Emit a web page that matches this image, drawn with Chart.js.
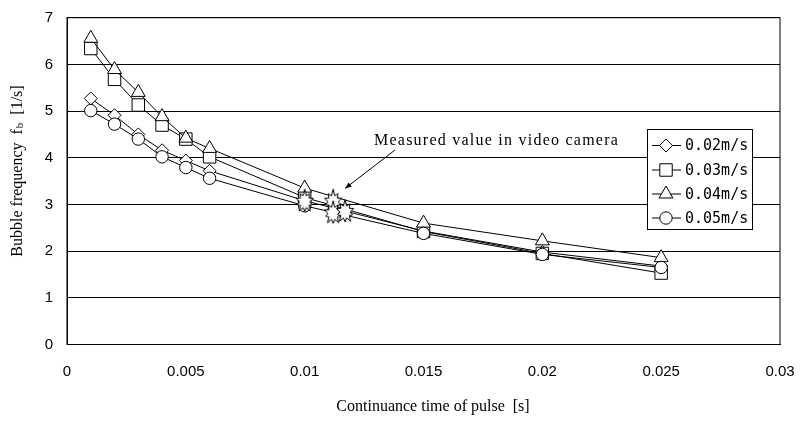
<!DOCTYPE html>
<html>
<head>
<meta charset="utf-8">
<script src="https://cdn.jsdelivr.net/npm/chart.js@4/dist/chart.umd.min.js"></script>
<style>
  html, body { margin: 0; padding: 0; background: #ffffff; }
  #wrap { width: 807px; height: 423px; position: relative; }
</style>
</head>
<body>
<div id="wrap"><canvas id="c" width="807" height="423"></canvas></div>
<script>
// Pulse duration [s]
const pulseTime = [0.001, 0.002, 0.003, 0.004, 0.005, 0.006, 0.010, 0.015, 0.020, 0.025];
// Bubble frequency [1/s] per gas velocity
const freq002 = [5.27, 4.91, 4.50, 4.16, 3.94, 3.72, 3.08, 2.43, 1.98, 1.68];
const freq003 = [6.34, 5.68, 5.13, 4.70, 4.40, 4.02, 3.15, 2.42, 1.95, 1.53];
const freq004 = [6.56, 5.89, 5.40, 4.88, 4.42, 4.20, 3.35, 2.60, 2.22, 1.86];
const freq005 = [5.01, 4.72, 4.40, 4.02, 3.79, 3.56, 2.97, 2.38, 1.93, 1.65];
// Values measured with the video camera
const cameraTime = [0.0100, 0.0112, 0.0112, 0.0117];
const cameraFreq = [3.06, 3.06, 2.81, 2.84];

const seriesNames = ['0.02m/s', '0.03m/s', '0.04m/s', '0.05m/s'];
const xTickLabels = ['0', '0.005', '0.01', '0.015', '0.02', '0.025', '0.03'];
const yTickLabels = ['0', '1', '2', '3', '4', '5', '6', '7'];
const xTitle = 'Continuance time of pulse  [s]';
const yTitleMain = 'Bubble frequency  f';
const yTitleSub = 'b';
const yTitleTail = '  [1/s]';
const noteText = 'Measured value in video camera';

const serif = '"Liberation Serif", "Times New Roman", serif';
const sans = '"Liberation Sans", Arial, sans-serif';
const mono = '"DejaVu Sans Mono", "Liberation Mono", monospace';

// Explosion-shaped marker for the camera measurements
function makeBurst() {
  const cv = document.createElement('canvas');
  cv.width = 30; cv.height = 30;
  const g = cv.getContext('2d');
  const outer = [12.5, 10, 11, 9.5, 11.5, 10, 11.5, 9.5, 11, 10];
  const inner = 6.3;
  const n = outer.length * 2;
  g.beginPath();
  for (let i = 0; i < n; i++) {
    const a = -Math.PI / 2 + i * Math.PI * 2 / n;
    const r = (i % 2 === 0) ? outer[i / 2] : inner;
    const px = 15 + r * Math.cos(a) * 0.82;
    const py = 15 + r * Math.sin(a);
    if (i === 0) g.moveTo(px, py); else g.lineTo(px, py);
  }
  g.closePath();
  g.fillStyle = '#ffffff';
  g.fill();
  g.lineWidth = 1;
  g.lineJoin = 'miter';
  g.strokeStyle = '#000000';
  g.stroke();
  return cv;
}
const burst = makeBurst();

function pts(xs, ys) { return xs.map((x, i) => ({ x: x, y: ys[i] })); }

const styles = [
  { pointStyle: 'rectRot', radius: 6.5 },
  { pointStyle: 'rect', radius: 8.8 },
  { pointStyle: 'triangle', radius: 8 },
  { pointStyle: 'circle', radius: 6.2 }
];
const seriesData = [freq002, freq003, freq004, freq005];

const datasets = seriesData.map((vals, i) => ({
  label: seriesNames[i],
  data: pts(pulseTime, vals),
  borderColor: '#000000',
  borderWidth: 1,
  backgroundColor: '#ffffff',
  pointStyle: styles[i].pointStyle,
  pointRadius: styles[i].radius,
  pointBorderWidth: 1,
  pointBorderColor: '#000000',
  pointBackgroundColor: '#ffffff',
  showLine: true,
  tension: 0,
  order: 4 - i
}));
datasets.push({
  label: noteText,
  data: pts(cameraTime, cameraFreq),
  pointStyle: burst,
  pointRadius: 12,
  showLine: false,
  order: -1
});

// Frame, axis titles, note with arrow and legend box
const decor = {
  id: 'decor',
  beforeDatasetsDraw(chart) {
    const { ctx, chartArea: a } = chart;
    ctx.save();
    ctx.strokeStyle = '#000000';
    ctx.lineWidth = 1;
    ctx.strokeRect(a.left, a.top, a.right - a.left, a.bottom - a.top);
    ctx.restore();
  },
  afterDraw(chart) {
    const { ctx } = chart;
    ctx.save();
    ctx.fillStyle = '#000000';
    ctx.strokeStyle = '#000000';

    // x axis title
    ctx.font = '16px ' + serif;
    ctx.textAlign = 'center';
    ctx.textBaseline = 'middle';
    ctx.fillText(xTitle, 433, 407);

    // y axis title with subscript
    ctx.save();
    ctx.translate(18, 171);
    ctx.rotate(-Math.PI / 2);
    ctx.textAlign = 'left';
    ctx.textBaseline = 'middle';
    const fMain = '16px ' + serif, fSub = '11px ' + serif;
    ctx.font = fMain; const w1 = ctx.measureText(yTitleMain).width;
    const w3 = ctx.measureText(yTitleTail).width;
    ctx.font = fSub; const w2 = ctx.measureText(yTitleSub).width + 1;
    let sx = -(w1 + w2 + w3) / 2;
    ctx.font = fMain; ctx.fillText(yTitleMain, sx, 0); sx += w1;
    ctx.font = fSub; ctx.fillText(yTitleSub, sx + 1, 2); sx += w2;
    ctx.font = fMain; ctx.fillText(yTitleTail, sx, 0);
    ctx.restore();

    // note and arrow
    ctx.font = '16px ' + serif;
    ctx.textAlign = 'left';
    ctx.textBaseline = 'middle';
    const natural = ctx.measureText(noteText).width;
    const spacing = Math.max(0, (244 - natural) / (noteText.length - 1));
    ctx.letterSpacing = spacing.toFixed(2) + 'px';
    ctx.fillText(noteText, 374, 141);
    ctx.letterSpacing = '0px';
    const x0 = 395, y0 = 150, x1 = 345, y1 = 188.5;
    ctx.lineWidth = 1;
    ctx.beginPath(); ctx.moveTo(x0, y0); ctx.lineTo(x1, y1); ctx.stroke();
    const ang = Math.atan2(y1 - y0, x1 - x0);
    const L = 7, W = 0.38;
    ctx.beginPath();
    ctx.moveTo(x1, y1);
    ctx.lineTo(x1 - L * Math.cos(ang - W), y1 - L * Math.sin(ang - W));
    ctx.lineTo(x1 - L * Math.cos(ang + W), y1 - L * Math.sin(ang + W));
    ctx.closePath(); ctx.fill();

    // legend
    const bx = 647, by = 129, bw = 105, bh = 100;
    ctx.fillStyle = '#ffffff';
    ctx.fillRect(bx, by, bw, bh);
    ctx.strokeRect(bx + 0.5, by + 0.5, bw, bh);
    const rows = [145.5, 170, 194, 218];
    ctx.font = '15px ' + mono;
    for (let i = 0; i < 4; i++) {
      const ry = rows[i];
      ctx.strokeStyle = '#000000';
      ctx.lineWidth = 1;
      ctx.beginPath(); ctx.moveTo(652, ry); ctx.lineTo(681, ry); ctx.stroke();
      ctx.fillStyle = '#ffffff';
      Chart.helpers.drawPoint(ctx, {
        pointStyle: styles[i].pointStyle,
        radius: styles[i].radius,
        rotation: 0,
        borderWidth: 1
      }, 666, ry);
      ctx.fillStyle = '#000000';
      ctx.textAlign = 'left';
      ctx.textBaseline = 'middle';
      ctx.fillText(seriesNames[i], 685, ry + 1);
    }
    ctx.restore();
  }
};

new Chart(document.getElementById('c'), {
  type: 'scatter',
  data: { datasets: datasets },
  options: {
    responsive: false,
    animation: false,
    devicePixelRatio: 1,
    layout: { padding: { left: 0, right: 27, top: 17.7, bottom: 0 } },
    plugins: { legend: { display: false }, tooltip: { enabled: false } },
    scales: {
      x: {
        type: 'linear', min: 0, max: 0.03,
        afterFit: s => { s.height = 78.5; s.paddingLeft = 0; s.paddingRight = 0; },
        afterBuildTicks: s => { s.ticks = xTickLabels.map(t => ({ value: +t })); },
        ticks: {
          callback: (v, i) => xTickLabels[i],
          color: '#000000', font: { family: sans, size: 15 }, padding: 18,
          maxRotation: 0, autoSkip: false
        },
        grid: { display: false, drawTicks: false },
        border: { display: true, color: '#000000' }
      },
      y: {
        min: 0, max: 7,
        afterFit: s => { s.width = 67; s.paddingTop = 0; s.paddingBottom = 0; },
        afterBuildTicks: s => { s.ticks = yTickLabels.map(t => ({ value: +t })); },
        ticks: {
          callback: (v, i) => yTickLabels[i],
          color: '#000000', font: { family: sans, size: 15 }, padding: 14
        },
        grid: { color: '#000000', lineWidth: 1, drawTicks: false },
        border: { display: true, color: '#000000' }
      }
    }
  },
  plugins: [decor]
});
</script>
</body>
</html>
